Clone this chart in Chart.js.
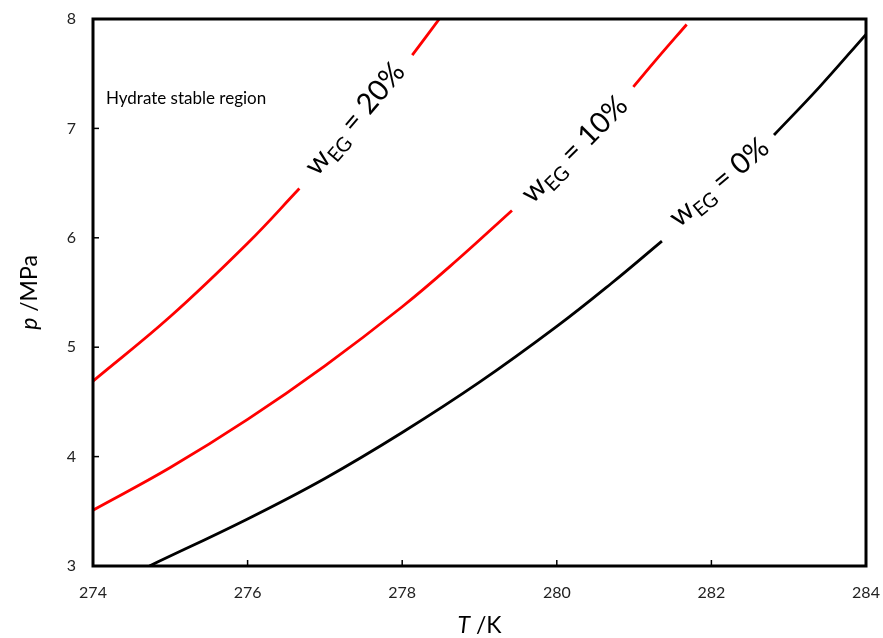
<!DOCTYPE html>
<html>
<head>
<meta charset="UTF-8">
<title>Hydrate equilibrium curves</title>
<script src="https://cdn.jsdelivr.net/npm/chart.js"></script>
<style>
  html, body { margin: 0; padding: 0; background: #fff; }
</style>
</head>
<body>
<canvas id="hydrateChart" width="883" height="638"></canvas>
<script>
// tick values
var tempTicks = [274, 276, 278, 280, 282, 284];
var pressTicks = [3, 4, 5, 6, 7, 8];

// w_EG = 0 %  (null = gap left for the label)
var temp0  = [274.73, 276.0, 277.0, 278.0, 279.0, 280.0, 280.7, 281.36, 282.1, 282.81, 283.4, 284.0];
var press0 = [3.00,   3.43,  3.80,  4.22,  4.68,  5.19,  5.58,  5.97,   null,  6.94,   7.38,  7.86];

// w_EG = 10 %
var temp10  = [274.0, 275.0, 276.0, 277.0, 278.0, 278.7, 279.42, 280.2, 280.99, 281.3, 281.68];
var press10 = [3.51,  3.90,  4.34,  4.83,  5.37,  5.79,  6.25,   null,  7.38,   7.64,  7.95];

// w_EG = 20 %
var temp20  = [274.0, 275.0, 276.0, 276.67, 277.4, 278.13, 278.48];
var press20 = [4.69,  5.28,  5.95,  6.45,   null,  7.67,   8.00];

var curveLabels = [
    {text: '20%', t: 277.40, p: 7.08, angle: 49.5},
    {text: '10%', t: 280.24, p: 6.80, angle: 45},
    {text: '0%',  t: 282.11, p: 6.50, angle: 40}
];

function toPoints(xs, ys){
    var pts = [];
    for(var i = 0; i < xs.length; i++){
        pts.push({x: xs[i], y: ys[i]});
    }
    return pts;
}

function drawCurveLabel(ctx, x, y, angle, value){
    var big = '29px Lato', small = '20px Lato';
    ctx.save();
    ctx.translate(x, y);
    ctx.rotate(-angle * Math.PI / 180);
    ctx.fillStyle = '#000';
    ctx.textBaseline = 'alphabetic';
    ctx.textAlign = 'left';
    ctx.font = big;
    var w1 = ctx.measureText('w').width;
    var rest = ' = ' + value;
    var w3 = ctx.measureText(rest).width;
    ctx.font = small;
    var w2 = ctx.measureText('EG').width;
    var start = -(w1 + w2 + w3) / 2;
    var base = 8;
    ctx.font = big;
    ctx.fillText('w', start, base);
    ctx.font = small;
    ctx.fillText('EG', start + w1, base + 6);
    ctx.font = big;
    ctx.fillText(rest, start + w1 + w2, base);
    ctx.restore();
}

function noPad(s){
    s.paddingLeft = 0; s.paddingRight = 0; s.paddingTop = 0; s.paddingBottom = 0;
}

var decorPlugin = {
    id: 'decor',
    afterDatasetsDraw: function(chart){
        var ctx = chart.ctx, a = chart.chartArea;
        var xs = chart.scales.x, ys = chart.scales.y;
        ctx.save();

        // inward tick marks
        ctx.strokeStyle = '#000';
        ctx.lineWidth = 1.5;
        tempTicks.forEach(function(t){
            var px = xs.getPixelForValue(t);
            ctx.beginPath(); ctx.moveTo(px, a.bottom); ctx.lineTo(px, a.bottom - 6); ctx.stroke();
        });
        pressTicks.forEach(function(p){
            var py = ys.getPixelForValue(p);
            ctx.beginPath(); ctx.moveTo(a.left, py); ctx.lineTo(a.left + 6, py); ctx.stroke();
        });

        // frame
        ctx.lineWidth = 3;
        ctx.strokeRect(a.left, a.top, a.right - a.left, a.bottom - a.top);

        // region text
        ctx.fillStyle = '#000';
        ctx.font = '17px Lato';
        ctx.textBaseline = 'middle';
        ctx.textAlign = 'left';
        ctx.fillText('Hydrate stable region', a.left + 13, 99);

        // curve labels
        curveLabels.forEach(function(l){
            drawCurveLabel(ctx, xs.getPixelForValue(l.t), ys.getPixelForValue(l.p), l.angle, l.text);
        });

        // x title: T /K
        ctx.fillStyle = '#000';
        ctx.font = 'italic 23px Lato';
        var wT = ctx.measureText('T').width;
        ctx.font = '23px Lato';
        var wK = ctx.measureText(' /K').width;
        var cx = (a.left + a.right) / 2, sx = cx - (wT + wK) / 2;
        ctx.textBaseline = 'middle';
        ctx.font = 'italic 23px Lato';
        ctx.fillText('T', sx, 626);
        ctx.font = '23px Lato';
        ctx.fillText(' /K', sx + wT, 626);

        // y title: p /MPa
        ctx.translate(30, (a.top + a.bottom) / 2);
        ctx.rotate(-Math.PI / 2);
        ctx.font = 'italic 23px Lato';
        var wp = ctx.measureText('p').width;
        ctx.font = '23px Lato';
        var wm = ctx.measureText(' /MPa').width;
        var sy = -(wp + wm) / 2;
        ctx.font = 'italic 23px Lato';
        ctx.fillText('p', sy, 0);
        ctx.font = '23px Lato';
        ctx.fillText(' /MPa', sy + wp, 0);

        ctx.restore();
    }
};

var chart = new Chart(document.getElementById('hydrateChart').getContext('2d'), {
    type: 'line',
    data: {
        datasets: [
            {label: 'wEG = 0%',  data: toPoints(temp0, press0),   borderColor: '#000000', borderWidth: 2.8},
            {label: 'wEG = 10%', data: toPoints(temp10, press10), borderColor: '#ff0000', borderWidth: 2.8},
            {label: 'wEG = 20%', data: toPoints(temp20, press20), borderColor: '#ff0000', borderWidth: 2.8}
        ]
    },
    options: {
        responsive: false,
        animation: false,
        spanGaps: false,
        layout: {padding: {left: 0, top: 19, right: 17, bottom: 0}},
        elements: {
            point: {radius: 0},
            line: {tension: 0.4, fill: false}
        },
        plugins: {
            legend: {display: false},
            tooltip: {enabled: false}
        },
        scales: {
            x: {
                type: 'linear',
                min: 274, max: 284,
                afterFit: function(s){ s.height = 72; noPad(s); },
                grid: {display: false, drawTicks: false},
                border: {display: false},
                ticks: {stepSize: 2, padding: 17, color: '#222', font: {family: 'Lato', size: 16}}
            },
            y: {
                type: 'linear',
                min: 3, max: 8,
                afterFit: function(s){ s.width = 93; noPad(s); },
                grid: {display: false, drawTicks: false},
                border: {display: false},
                ticks: {stepSize: 1, padding: 17, color: '#222', font: {family: 'Lato', size: 16}}
            }
        }
    },
    plugins: [decorPlugin]
});
</script>
</body>
</html>
